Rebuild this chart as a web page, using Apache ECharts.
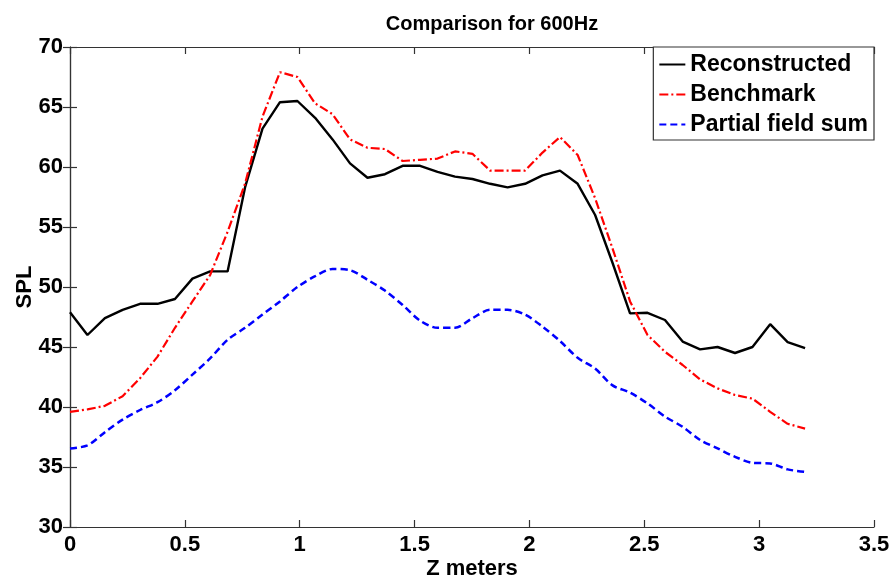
<!DOCTYPE html>
<html>
<head>
<meta charset="utf-8">
<script src="https://cdn.jsdelivr.net/npm/echarts@6/dist/echarts.min.js"></script>
<style>
html,body{margin:0;padding:0;background:#fff;}
#chart{width:894px;height:581px;}
</style>
</head>
<body>
<div id="chart"></div>
<script>
// Z positions (meters)
var zMeters = [0, 0.076, 0.152, 0.229, 0.305, 0.381, 0.457, 0.533, 0.610, 0.686,
  0.762, 0.838, 0.914, 0.990, 1.067, 1.143, 1.219, 1.295, 1.371, 1.448,
  1.524, 1.600, 1.676, 1.752, 1.829, 1.905, 1.981, 2.057, 2.133, 2.210,
  2.286, 2.362, 2.438, 2.514, 2.590, 2.667, 2.743, 2.819, 2.895, 2.971,
  3.048, 3.124, 3.200];

var reconstructed = [47.9, 46.0, 47.4, 48.1, 48.6, 48.6, 49.0, 50.7, 51.3, 51.3,
  58.3, 63.2, 65.4, 65.5, 64.1, 62.3, 60.3, 59.1, 59.4, 60.1,
  60.1, 59.6, 59.2, 59.0, 58.6, 58.3, 58.6, 59.3, 59.7, 58.6,
  56.0, 52.0, 47.8, 47.85, 47.25, 45.45, 44.8, 45.0, 44.5, 45.0,
  46.9, 45.4, 44.9];

var benchmark = [39.6, 39.8, 40.1, 40.9, 42.4, 44.2, 46.6, 48.8, 51.0, 54.6,
  58.6, 64.2, 67.9, 67.5, 65.3, 64.4, 62.3, 61.6, 61.5, 60.5,
  60.6, 60.7, 61.3, 61.1, 59.7, 59.7, 59.7, 61.2, 62.5, 61.0,
  57.4, 53.2, 48.8, 46.0, 44.6, 43.5, 42.3, 41.55, 41.0, 40.7,
  39.6, 38.6, 38.2];

var partialSum = [36.55, 36.8, 37.9, 38.95, 39.75, 40.4, 41.4, 42.7, 44.05, 45.6,
  46.6, 47.7, 48.8, 50.0, 50.9, 51.5, 51.4, 50.6, 49.7, 48.5,
  47.2, 46.6, 46.6, 47.4, 48.1, 48.1, 47.7, 46.7, 45.5, 44.1,
  43.2, 41.8, 41.2, 40.3, 39.2, 38.35, 37.25, 36.55, 35.85, 35.35,
  35.3, 34.8, 34.6];

var seriesNames = ['Reconstructed', 'Benchmark', 'Partial field sum'];
var titleText = 'Comparison for 600Hz';
var xName = 'Z meters';
var yName = 'SPL';

function pairs(ys) {
  return zMeters.map(function (z, i) { return [z, ys[i]]; });
}

var FONT = '"Liberation Sans", Arial, sans-serif';
var axisColor = '#333';

var chart = echarts.init(document.getElementById('chart'), null, {renderer: 'canvas'});

var baseAxisLine = {show: true, lineStyle: {color: axisColor, width: 1.2}};
var tickIn = {show: true, inside: true, length: 7, lineStyle: {color: axisColor, width: 1.2}};

chart.setOption({
  animation: false,
  backgroundColor: '#fff',
  title: {
    text: titleText,
    left: 487, top: 9,
    textAlign: 'center',
    textStyle: {fontFamily: FONT, fontSize: 20, fontWeight: 'bold', color: '#000'}
  },
  grid: {left: 70, right: 20, top: 47, bottom: 54, containLabel: false, outerBoundsMode: 'none'},
  legend: {
    orient: 'vertical',
    right: 20, top: 47,
    padding: [6, 6, 4, 5],
    itemWidth: 26, itemHeight: 14, itemGap: 7,
    backgroundColor: '#fff',
    borderColor: axisColor, borderWidth: 1.2,
    itemStyle: {color: 'transparent', borderColor: 'transparent', borderWidth: 0, opacity: 0},
    textStyle: {fontFamily: FONT, fontSize: 23, fontWeight: 'bold', color: '#000'},
    data: seriesNames
  },
  xAxis: [{
    type: 'value', min: 0, max: 3.5, interval: 0.5,
    name: xName, nameLocation: 'middle', nameGap: 31, nameMoveOverlap: false,
    nameTextStyle: {fontFamily: FONT, fontSize: 22, fontWeight: 'bold', color: '#000'},
    axisLine: baseAxisLine, axisTick: tickIn,
    axisLabel: {fontFamily: FONT, fontSize: 22, fontWeight: 'bold', color: '#000', margin: 7,
      formatter: function (v) { return String(+v.toFixed(1)); }},
    splitLine: {show: false}
  }, {
    type: 'value', min: 0, max: 3.5, interval: 0.5, position: 'top',
    axisLine: baseAxisLine, axisTick: tickIn, axisLabel: {show: false}, splitLine: {show: false}
  }],
  yAxis: [{
    type: 'value', min: 30, max: 70, interval: 5,
    name: yName, nameLocation: 'middle', nameGap: 34, nameRotate: 90, nameMoveOverlap: false,
    nameTextStyle: {fontFamily: FONT, fontSize: 22, fontWeight: 'bold', color: '#000'},
    axisLine: baseAxisLine, axisTick: tickIn,
    axisLabel: {fontFamily: FONT, fontSize: 22, fontWeight: 'bold', color: '#000', margin: 7},
    splitLine: {show: false}
  }, {
    type: 'value', min: 30, max: 70, interval: 5, position: 'right',
    axisLine: baseAxisLine, axisTick: tickIn, axisLabel: {show: false}, splitLine: {show: false}
  }],
  series: [{
    name: seriesNames[0], type: 'line', data: pairs(reconstructed),
    symbol: 'none', lineStyle: {color: '#000', width: 2.4, type: 'solid'},
    itemStyle: {color: '#000'}, z: 3
  }, {
    name: seriesNames[1], type: 'line', data: pairs(benchmark),
    symbol: 'none', lineStyle: {color: '#ff0000', width: 2.2, type: [9, 3, 2, 3]},
    itemStyle: {color: '#ff0000'}, z: 4
  }, {
    name: seriesNames[2], type: 'line', data: pairs(partialSum),
    symbol: 'none', smooth: 0.3, lineStyle: {color: '#0000ff', width: 2.5, type: [7, 4]},
    itemStyle: {color: '#0000ff'}, z: 2
  }]
});
</script>
</body>
</html>
